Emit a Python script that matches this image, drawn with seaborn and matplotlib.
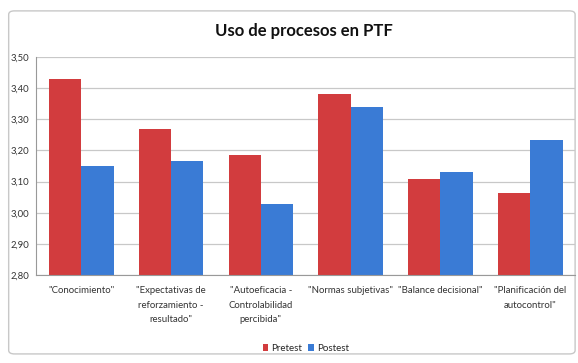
import pandas as pd
import seaborn as sns
import matplotlib.pyplot as plt
from matplotlib.patches import FancyBboxPatch

# values
categorias = ['"Conocimiento"',
              '"Expectativas de\nreforzamiento -\nresultado"',
              '"Autoeficacia -\nControlabilidad\npercibida"',
              '"Normas subjetivas"',
              '"Balance decisional"',
              '"Planificación del\nautocontrol"']
pretest = [3.43, 3.27, 3.185, 3.38, 3.11, 3.065]
postest = [3.15, 3.167, 3.028, 3.34, 3.13, 3.233]
yticks = [2.80, 2.90, 3.00, 3.10, 3.20, 3.30, 3.40, 3.50]

df = pd.DataFrame({'cat': categorias * 2,
                   'valor': pretest + postest,
                   'grupo': ['Pretest'] * 6 + ['Postest'] * 6})

sns.set_style("white")
plt.rcParams['font.family'] = ['Lato', 'DejaVu Sans']

fig = plt.figure(figsize=(5.78, 3.63), dpi=100)
# outer chart frame, kept behind the axes
fig.patches.append(FancyBboxPatch((0.015, 0.025), 0.98, 0.945,
                                  boxstyle="round,pad=0,rounding_size=0.01",
                                  transform=fig.transFigure, facecolor='white',
                                  edgecolor='#c8c8c8', linewidth=1, zorder=-10))
ax = fig.add_axes([0.063, 0.242, 0.932, 0.601])
ax.set_zorder(5)
ax.patch.set_alpha(0)

sns.barplot(data=df, x='cat', y='valor', hue='grupo',
            palette={'Pretest': '#d23c3e', 'Postest': '#3a7bd5'},
            saturation=1, width=0.72, ax=ax, edgecolor='none', legend=True)

ax.set_ylim(2.80, 3.50)
ax.set_yticks(yticks)
ax.set_yticklabels([f'{v:.2f}'.replace('.', ',') for v in yticks], fontsize=6.8, color='#333333')
ax.set_xticks(range(len(categorias)))
ax.set_xticklabels(categorias, fontsize=6.9, color='#333333', linespacing=1.75)
ax.tick_params(axis='x', length=0, pad=8)
ax.tick_params(axis='y', length=3, color='#999999', pad=2)
ax.set_xlabel('')
ax.set_ylabel('')
ax.set_axisbelow(True)
ax.yaxis.grid(True, color='#c8c8c8', linewidth=0.9)
for s in ['top', 'right']:
    ax.spines[s].set_visible(False)
for s in ['left', 'bottom']:
    ax.spines[s].set_color('#999999')
    ax.spines[s].set_linewidth(0.8)

ax.legend(loc='upper center', bbox_to_anchor=(0.5, -0.275), ncol=2, frameon=False,
          fontsize=7, handlelength=0.6, handleheight=0.6, handletextpad=0.3,
          columnspacing=0.6)

fig.text(0.525, 0.915, 'Uso de procesos en PTF', ha='center', va='center',
         fontsize=12, fontweight='bold', color='#111111')

fig.savefig('out.png', dpi=100)
